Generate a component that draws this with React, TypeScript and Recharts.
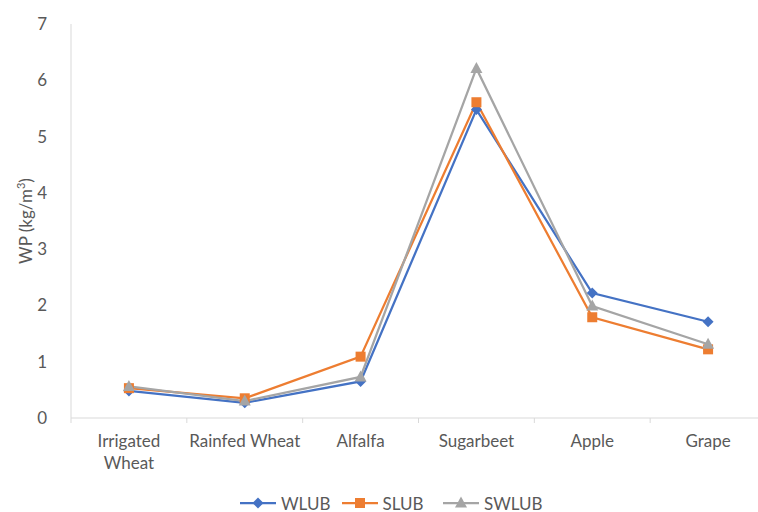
import { LineChart, Line, XAxis, YAxis, Legend } from 'recharts'

const crops = ['Irrigated Wheat', 'Rainfed Wheat', 'Alfalfa', 'Sugarbeet', 'Apple', 'Grape']
const cropLines = [['Irrigated', 'Wheat'], ['Rainfed Wheat'], ['Alfalfa'], ['Sugarbeet'], ['Apple'], ['Grape']]
const wlub = [0.48, 0.27, 0.65, 5.48, 2.22, 1.71]
const slub = [0.53, 0.35, 1.09, 5.61, 1.79, 1.22]
const swlub = [0.56, 0.3, 0.73, 6.21, 1.99, 1.31]
const yTicks = [0, 1, 2, 3, 4, 5, 6, 7]

const data = crops.map((name, i) => ({ name, WLUB: wlub[i], SLUB: slub[i], SWLUB: swlub[i] }))

const BLUE = '#4472C4'
const ORANGE = '#ED7D31'
const GRAY = '#A5A5A5'
const TEXT = '#595959'
const AXIS = '#D9D9D9'
const FONT = 'Lato, "Open Sans", sans-serif'

const W = 780
const H = 512

function Diamond({ cx, cy, fill }: any) {
  if (cx == null || cy == null) return null
  const r = 5.5
  return <path d={`M${cx},${cy - r}L${cx + r},${cy}L${cx},${cy + r}L${cx - r},${cy}Z`} fill={fill} />
}

function Square({ cx, cy, fill }: any) {
  if (cx == null || cy == null) return null
  return <rect x={cx - 5} y={cy - 5} width={10} height={10} fill={fill} />
}

function Triangle({ cx, cy, fill }: any) {
  if (cx == null || cy == null) return null
  return <path d={`M${cx},${cy - 6.5}L${cx + 6},${cy + 4.5}L${cx - 6},${cy + 4.5}Z`} fill={fill} />
}

function CropTick(props: any) {
  const { x, y, payload, index } = props
  const half = payload.offset ?? 58
  const lines: string[] = cropLines[index] ?? [payload.value]
  return (
    <g>
      <line x1={x - half} x2={x - half} y1={y} y2={y + 5} stroke={AXIS} />
      {index === crops.length - 1 && <line x1={x + half} x2={x + half} y1={y} y2={y + 5} stroke={AXIS} />}
      <text x={x} y={y + 29} textAnchor="middle" fill={TEXT} fontSize={17} fontFamily={FONT}>
        {lines.map((l, i) => (
          <tspan key={l} x={x} dy={i === 0 ? 0 : 22}>{l}</tspan>
        ))}
      </text>
    </g>
  )
}

function YLabel(props: any) {
  const vb = props.viewBox
  const cx = 28
  const cy = vb.y + vb.height / 2
  return (
    <text x={cx} y={cy} transform={`rotate(-90 ${cx} ${cy})`} textAnchor="middle" dominantBaseline="middle" fill={TEXT} fontSize={17} fontFamily={FONT}>
      WP (kg/m<tspan dy={-6} fontSize={11}>3</tspan><tspan dy={6}>)</tspan>
    </text>
  )
}

const legendItems = [
  { name: 'WLUB', color: BLUE, Marker: Diamond },
  { name: 'SLUB', color: ORANGE, Marker: Square },
  { name: 'SWLUB', color: GRAY, Marker: Triangle },
]

function ChartLegend() {
  return (
    <div style={{ display: 'flex', alignItems: 'center', height: 34, paddingLeft: 219, paddingTop: 16, boxSizing: 'border-box', fontFamily: FONT, fontSize: 17, color: TEXT }}>
      {legendItems.map(({ name, color, Marker }) => (
        <div key={name} style={{ display: 'flex', alignItems: 'center', width: 101.5, whiteSpace: 'nowrap' }}>
          <svg width={36} height={14} style={{ marginRight: 5, flexShrink: 0 }}>
            <line x1={0} x2={36} y1={7} y2={7} stroke={color} strokeWidth={2.25} />
            <Marker cx={18} cy={7} fill={color} />
          </svg>
          <span>{name}</span>
        </div>
      ))}
    </div>
  )
}

export default function App() {
  return (
    <div style={{ position: 'absolute', left: 0, top: 0, width: 758, height: 512, overflow: 'hidden', background: '#fff' }}>
      <LineChart width={W} height={H} data={data} margin={{ top: 24, right: 14, bottom: 0, left: 21 }}>
        <XAxis
          dataKey="name"
          scale="band"
          stroke={AXIS}
          tickLine={false}
          tickSize={0}
          tickMargin={0}
          height={60}
          interval={0}
          tick={<CropTick />}
        />
        <YAxis
          domain={[0, 7]}
          ticks={yTicks}
          width={50}
          stroke={AXIS}
          tickLine={false}
          tickMargin={18}
          tick={{ fill: TEXT, fontSize: 17, fontFamily: FONT }}
          label={<YLabel />}
        />
        <Legend verticalAlign="bottom" height={34} content={<ChartLegend />} />
        <Line dataKey="WLUB" stroke={BLUE} strokeWidth={2.25} dot={<Diamond fill={BLUE} />} activeDot={false} isAnimationActive={false} />
        <Line dataKey="SLUB" stroke={ORANGE} strokeWidth={2.25} dot={<Square fill={ORANGE} />} activeDot={false} isAnimationActive={false} />
        <Line dataKey="SWLUB" stroke={GRAY} strokeWidth={2.25} dot={<Triangle fill={GRAY} />} activeDot={false} isAnimationActive={false} />
      </LineChart>
    </div>
  )
}
